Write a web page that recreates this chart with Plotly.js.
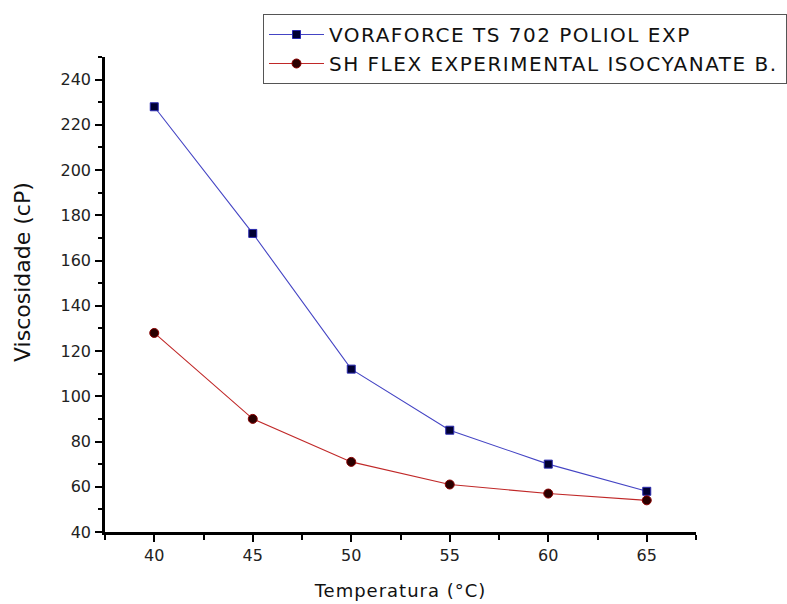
<!DOCTYPE html>
<html><head><meta charset="utf-8">
<script src="https://cdn.plot.ly/plotly-3.0.1.min.js"></script>
<style>
html,body{margin:0;padding:0;background:#fff}
#chart .legendtext{letter-spacing:1.5px}
#chart .xtitle{letter-spacing:1px}
</style>
</head><body>
<div id="chart" style="width:787px;height:604px"></div>
<script>
const temperatures = [40, 45, 50, 55, 60, 65];
const voraforceViscosity = [228, 172, 112, 85, 70, 58];
const shFlexViscosity = [128, 90, 71, 61, 57, 54];
const seriesNames = ["VORAFORCE TS 702 POLIOL EXP", "SH FLEX EXPERIMENTAL ISOCYANATE B."];
const xTickVals = [40, 45, 50, 55, 60, 65];
const yTickVals = [40, 60, 80, 100, 120, 140, 160, 180, 200, 220, 240];
const xTitle = "Temperatura (°C)";
const yTitle = "Viscosidade (cP)";

const FONT = "DejaVu Sans, Liberation Sans, Arial, sans-serif";

const traces = [
  {
    x: temperatures, y: voraforceViscosity, name: seriesNames[0],
    type: "scatter", mode: "lines+markers",
    line: {color: "#4444c4", width: 1.1},
    marker: {symbol: "square", size: 8, color: "#000033", line: {color: "#2a2ab0", width: 1}}
  },
  {
    x: temperatures, y: shFlexViscosity, name: seriesNames[1],
    type: "scatter", mode: "lines+markers",
    line: {color: "#c02828", width: 1.1},
    marker: {symbol: "circle", size: 9, color: "#2a0000", line: {color: "#8a0000", width: 1}}
  }
];

const axisCommon = {
  showline: true, linecolor: "#000", linewidth: 2.5,
  ticks: "outside", ticklen: 7, tickwidth: 2, tickcolor: "#000",
  showgrid: false, zeroline: false, mirror: false,
  tickfont: {family: FONT, size: 16, color: "#222"}
};

const layout = {
  width: 787, height: 604,
  margin: {l: 105, r: 91, t: 57, b: 72, autoexpand: false},
  paper_bgcolor: "#fff", plot_bgcolor: "#fff",
  font: {family: FONT, color: "#111"},
  showlegend: true,
  legend: {
    orientation: "h", entrywidth: 452, entrywidthmode: "pixels",
    x: 263 / 787, xanchor: "left", xref: "container",
    y: 1 - 14 / 604, yanchor: "top", yref: "container",
    bgcolor: "#fff", bordercolor: "#555", borderwidth: 1,
    font: {family: FONT, size: 20, color: "#111"},
    itemwidth: 55, tracegroupgap: 0
  },
  xaxis: Object.assign({}, axisCommon, {
    range: [37.5, 67.5], tickmode: "array", tickvals: xTickVals,
    ticktext: xTickVals.map(String), ticklabelstandoff: 0,
    minor: {dtick: 2.5, tick0: 37.5, ticks: "outside", ticklen: 5, tickwidth: 2, tickcolor: "#000", showgrid: false},
    title: {text: xTitle, font: {family: FONT, size: 18, color: "#111"}, standoff: 21}
  }),
  yaxis: Object.assign({}, axisCommon, {
    range: [40, 250], tickmode: "array", tickvals: yTickVals,
    ticktext: yTickVals.map(String), ticklabelstandoff: 1,
    minor: {dtick: 10, tick0: 40, ticks: "outside", ticklen: 4, tickwidth: 2, tickcolor: "#000", showgrid: false}
  }),
  annotations: [{
    text: yTitle, textangle: -90, showarrow: false,
    xref: "paper", yref: "paper",
    x: (22 - 105) / 591, y: (532 - 272) / 475,
    xanchor: "center", yanchor: "middle",
    font: {family: FONT, size: 22, color: "#111"}
  }]
};

Plotly.newPlot("chart", traces, layout, {displayModeBar: false, responsive: false});
</script>
</body></html>
